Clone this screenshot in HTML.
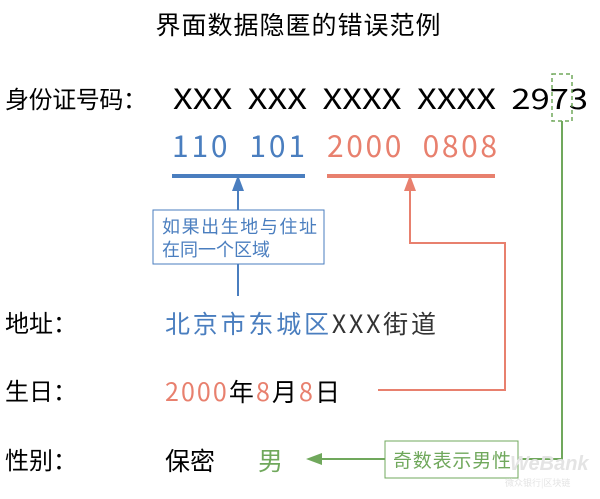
<!DOCTYPE html>
<html><head><meta charset="utf-8"><style>
html,body{margin:0;padding:0;background:#fff;}
svg{display:block;font-family:"Liberation Sans","Noto Sans CJK SC",sans-serif;}
</style></head><body>
<svg width="600" height="499" viewBox="0 0 600 499" xmlns="http://www.w3.org/2000/svg">
<defs>
<marker id="ab" markerWidth="8" markerHeight="8" refX="4" refY="4" orient="auto"><path d="M0,1 L8,4 L0,7 z" fill="#4a7ebf"/></marker>
<marker id="as" markerWidth="8" markerHeight="8" refX="4" refY="4" orient="auto"><path d="M0,1 L8,4 L0,7 z" fill="#e8806e"/></marker>
<marker id="ag" markerWidth="8" markerHeight="8" refX="4" refY="4" orient="auto"><path d="M0,1 L8,4 L0,7 z" fill="#70a85c"/></marker>
</defs>
<text x="298" y="34" font-size="25" text-anchor="middle" textLength="285" font-family="Noto Sans CJK SC,sans-serif">界面数据隐匿的错误范例</text>
<text x="5" y="108" font-size="24" textLength="142" font-family="Noto Sans CJK SC,sans-serif">身份证号码：</text>
<text x="173" y="109" font-size="28" textLength="415" lengthAdjust="spacingAndGlyphs" font-family="Noto Sans CJK SC,sans-serif" xml:space="preserve">XXX  XXX  XXXX  XXXX  2973</text>
<rect x="552" y="74" width="20" height="47" fill="none" stroke="#70a85c" stroke-width="1.5" stroke-dasharray="4,3"/>
<text x="172" y="157" font-size="30" fill="#4a7ebf" textLength="133" font-family="Noto Sans CJK SC,sans-serif" xml:space="preserve">110  101</text>
<text x="327" y="157" font-size="30" fill="#e8806e" textLength="170" font-family="Noto Sans CJK SC,sans-serif" xml:space="preserve">2000  0808</text>
<rect x="172" y="174" width="133" height="4" fill="#4a7ebf"/>
<rect x="327" y="174" width="168" height="4" fill="#e8806e"/>
<line x1="238" y1="210" x2="238" y2="183" stroke="#4a7ebf" stroke-width="2" marker-end="url(#ab)"/>
<line x1="238" y1="264" x2="238" y2="296" stroke="#4a7ebf" stroke-width="2"/>
<rect x="153" y="210" width="171" height="54" fill="#fff" stroke="#4a7ebf" stroke-width="1"/>
<text x="162" y="233" font-size="18" fill="#4a7ebf" textLength="155" font-family="Noto Sans CJK SC,sans-serif">如果出生地与住址</text>
<text x="162" y="256" font-size="18" fill="#4a7ebf" font-family="Noto Sans CJK SC,sans-serif">在同一个区域</text>
<polyline points="378,390 505,390 505,243 410,243 410,183" fill="none" stroke="#e8806e" stroke-width="2" marker-end="url(#as)"/>
<polyline points="562,121 562,459 518,459" fill="none" stroke="#70a85c" stroke-width="2"/>
<line x1="385" y1="459" x2="314" y2="459" stroke="#70a85c" stroke-width="2" marker-end="url(#ag)"/>
<rect x="385" y="441" width="133" height="37" fill="#fff" stroke="#70a85c" stroke-width="1"/>
<text x="393" y="467" font-size="19" fill="#70a85c" textLength="118" font-family="Noto Sans CJK SC,sans-serif">奇数表示男性</text>
<text x="5" y="332" font-size="24" font-family="Noto Sans CJK SC,sans-serif">地址：</text>
<text x="5" y="400" font-size="24" font-family="Noto Sans CJK SC,sans-serif">生日：</text>
<text x="5" y="469" font-size="24" font-family="Noto Sans CJK SC,sans-serif">性别：</text>
<text x="165" y="333" font-size="25" textLength="271" font-family="Noto Sans CJK SC,sans-serif"><tspan fill="#4a7ebf">北京市东城区</tspan><tspan fill="#333">XXX街道</tspan></text>
<text x="165" y="401" font-size="25" textLength="175" font-family="Noto Sans CJK SC,sans-serif"><tspan fill="#e8806e">2000</tspan>年<tspan fill="#e8806e">8</tspan>月<tspan fill="#e8806e">8</tspan>日</text>
<text x="165" y="470" font-size="25" font-family="Noto Sans CJK SC,sans-serif">保密</text>
<text x="258" y="470" font-size="25" fill="#70a85c" font-family="Noto Sans CJK SC,sans-serif">男</text>
<text x="510" y="470" font-size="20" font-weight="bold" font-style="italic" fill="#e4e4e4">WeBank</text>
<text x="505" y="486" font-size="9" fill="#e4e4e4" font-family="Noto Sans CJK SC,sans-serif">微众银行|区块链</text>
</svg>
</body></html>
